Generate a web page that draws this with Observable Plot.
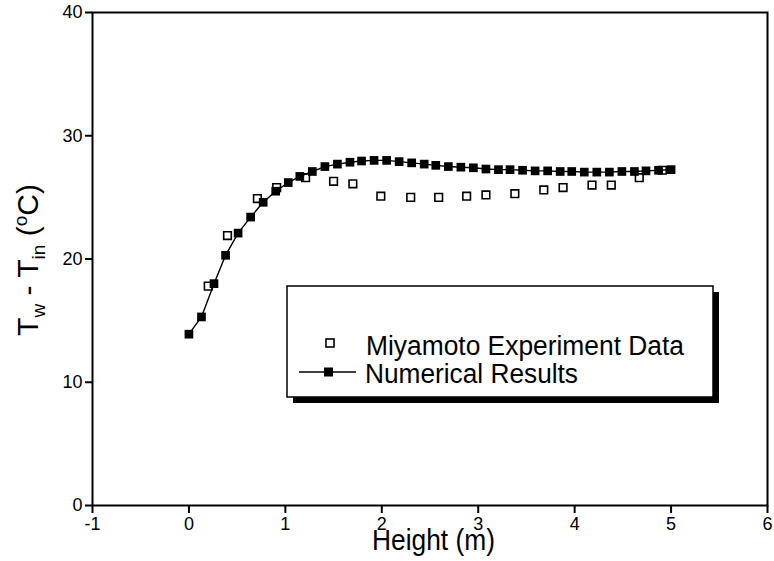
<!DOCTYPE html>
<html>
<head>
<meta charset="utf-8">
<script src="https://cdn.jsdelivr.net/npm/d3@7"></script>
<script src="https://cdn.jsdelivr.net/npm/@observablehq/plot@0.6"></script>
<style>
  body { margin: 0; background: #fff; }
  #chart svg { display: block; font-family: "Liberation Sans", Arial, sans-serif; }
</style>
</head>
<body>
<div id="chart"></div>
<script>
// Wall-to-inlet temperature difference along the heated height
const numHeight = [0, 0.13, 0.26, 0.38, 0.51, 0.64, 0.77, 0.90, 1.03, 1.15,
                   1.28, 1.41, 1.54, 1.67, 1.79, 1.92, 2.05, 2.18, 2.31, 2.44,
                   2.56, 2.69, 2.82, 2.95, 3.08, 3.21, 3.33, 3.46, 3.59, 3.72,
                   3.85, 3.97, 4.10, 4.23, 4.36, 4.49, 4.62, 4.74, 4.87, 5.00];
const numDeltaT = [13.9, 15.3, 18.0, 20.3, 22.1, 23.4, 24.6, 25.5, 26.2, 26.7,
                   27.1, 27.5, 27.7, 27.85, 27.95, 28.0, 28.0, 27.9, 27.8, 27.7,
                   27.6, 27.5, 27.45, 27.4, 27.3, 27.25, 27.25, 27.2, 27.15, 27.15,
                   27.1, 27.1, 27.05, 27.05, 27.05, 27.1, 27.1, 27.15, 27.2, 27.25];

const expHeight = [0.20, 0.40, 0.71, 0.91, 1.21, 1.50, 1.70, 1.99, 2.30, 2.59,
                   2.88, 3.08, 3.38, 3.68, 3.88, 4.18, 4.38, 4.67, 4.91];
const expDeltaT = [17.8, 21.9, 24.9, 25.8, 26.6, 26.3, 26.1, 25.1, 25.0, 25.0,
                   25.1, 25.2, 25.3, 25.6, 25.8, 26.0, 26.0, 26.6, 27.2];

const xTicks = [-1, 0, 1, 2, 3, 4, 5, 6];
const yTicks = [0, 10, 20, 30, 40];

const seriesNames = ["Miyamoto Experiment Data", "Numerical Results"];

const numerical = numHeight.map((h, i) => ({height: h, dT: numDeltaT[i]}));
const experiment = expHeight.map((h, i) => ({height: h, dT: expDeltaT[i]}));

const chart = Plot.plot({
  width: 774,
  height: 561,
  marginLeft: 92,
  marginRight: 7,
  marginTop: 12,
  marginBottom: 56,
  style: {background: "#fff", color: "#000", fontFamily: "'Liberation Sans', Arial, sans-serif"},
  x: {domain: [-1, 6]},
  y: {domain: [0, 40]},
  marks: [
    Plot.frame({stroke: "#000", strokeWidth: 2}),
    Plot.axisX({ticks: xTicks, tickSize: 8, tickPadding: 4, strokeWidth: 2,
                fontSize: 18, tickFormat: d => String(d), label: null}),
    Plot.axisY({ticks: yTicks, tickSize: 7, tickPadding: 3, strokeWidth: 2,
                fontSize: 18, tickFormat: d => String(d), label: null}),
    Plot.dot(experiment, {x: "height", y: "dT", symbol: "square", r: 4.3,
                          stroke: "#000", strokeWidth: 1.6, fill: "none"}),
    Plot.line(numerical, {x: "height", y: "dT", stroke: "#000", strokeWidth: 1.4}),
    Plot.dot(numerical, {x: "height", y: "dT", symbol: "square", r: 4.9,
                         fill: "#000", stroke: "none"})
  ]
});

document.getElementById("chart").appendChild(chart);

const svg = d3.select(chart);
const font = "'Liberation Sans', Arial, sans-serif";

// Axis titles
svg.append("text")
  .attr("x", 372).attr("y", 550)
  .attr("text-anchor", "start")
  .attr("font-family", font).attr("font-size", 30)
  .attr("textLength", 123).attr("lengthAdjust", "spacingAndGlyphs")
  .attr("fill", "#000")
  .text("Height (m)");

const yTitle = svg.append("text")
  .attr("transform", "translate(38,260) rotate(-90)")
  .attr("text-anchor", "middle")
  .attr("font-family", font).attr("font-size", 30)
  .attr("fill", "#000");
yTitle.append("tspan").text("T");
yTitle.append("tspan").attr("font-size", 19).attr("dy", 7).text("w");
yTitle.append("tspan").attr("dy", -7).text(" - T");
yTitle.append("tspan").attr("font-size", 19).attr("dy", 7).text("in");
yTitle.append("tspan").attr("dy", -7).text(" (");
yTitle.append("tspan").attr("font-size", 19).attr("dy", -11).text("o");
yTitle.append("tspan").attr("dy", 11).text("C)");

// Legend box with drop shadow
const lg = svg.append("g").attr("text-anchor", "start");
lg.append("rect").attr("x", 293).attr("y", 292).attr("width", 426).attr("height", 111).attr("fill", "#000");
lg.append("rect").attr("x", 287).attr("y", 286).attr("width", 426).attr("height", 111)
  .attr("fill", "#fff").attr("stroke", "#000").attr("stroke-width", 1.5);

lg.append("rect").attr("x", 326).attr("y", 339).attr("width", 8).attr("height", 8)
  .attr("fill", "none").attr("stroke", "#000").attr("stroke-width", 1.6);
lg.append("text").attr("x", 366).attr("y", 355)
  .attr("font-family", font).attr("font-size", 27)
  .attr("textLength", 318).attr("lengthAdjust", "spacingAndGlyphs")
  .attr("fill", "#000").text(seriesNames[0]);

lg.append("line").attr("x1", 299).attr("x2", 356).attr("y1", 372).attr("y2", 372)
  .attr("stroke", "#000").attr("stroke-width", 1.6);
lg.append("rect").attr("x", 324).attr("y", 367.5).attr("width", 9).attr("height", 9).attr("fill", "#000");
lg.append("text").attr("x", 365).attr("y", 383)
  .attr("font-family", font).attr("font-size", 27)
  .attr("textLength", 213).attr("lengthAdjust", "spacingAndGlyphs")
  .attr("fill", "#000").text(seriesNames[1]);
</script>
</body>
</html>
